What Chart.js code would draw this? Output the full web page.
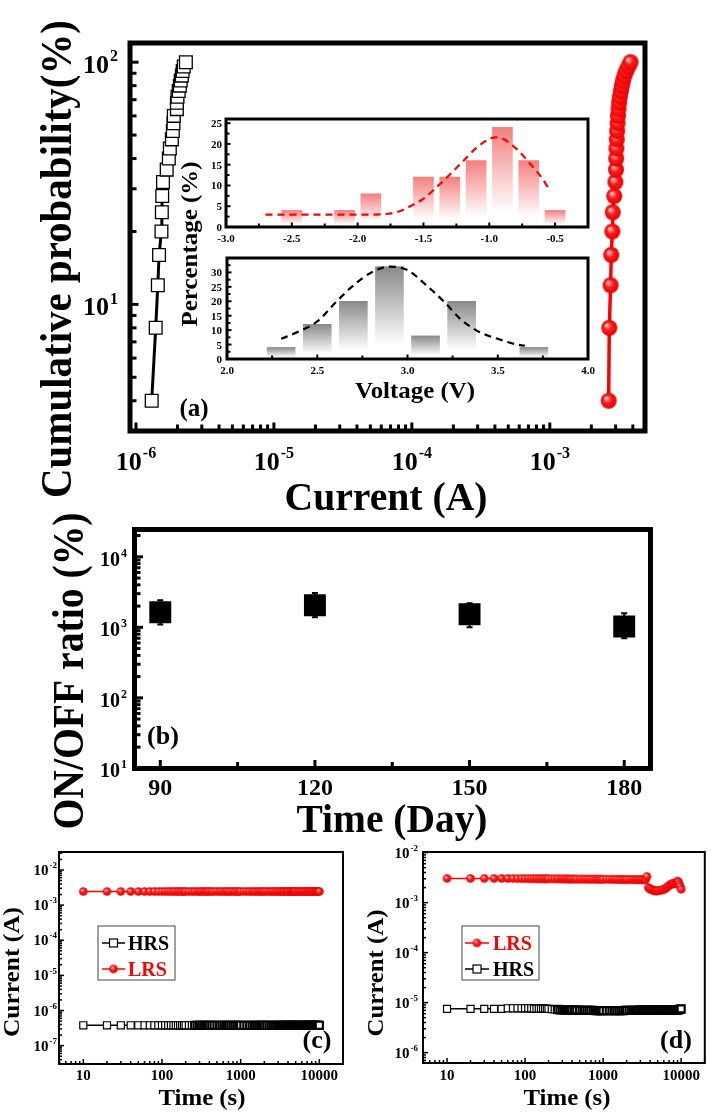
<!DOCTYPE html>
<html>
<head>
<meta charset="utf-8">
<script src="https://cdn.jsdelivr.net/npm/chart.js"></script>
<style>
  body { margin: 0; background: #fff; }
  #wrap { position: relative; width: 712px; height: 1112px; }
  #wrap canvas { position: absolute; left: 0; top: 0; }
</style>
</head>
<body>
<div id="wrap">
  <canvas id="cA" width="712" height="1112"></canvas>
  <canvas id="cI1" width="712" height="1112"></canvas>
  <canvas id="cI2" width="712" height="1112"></canvas>
  <canvas id="cB" width="712" height="1112"></canvas>
  <canvas id="cC" width="712" height="1112"></canvas>
  <canvas id="cD" width="712" height="1112"></canvas>
</div>
<script>
// ---- (a) cumulative probability ----
var cumProb = [4, 8, 12, 16, 20, 24, 28, 32, 36, 40, 44, 48, 52, 56, 60, 64, 68, 72, 76, 80, 84, 88, 92, 96, 100];
// HRS current in uA, LRS current in mA
var hrsCurrent = [1.30, 1.39, 1.44, 1.47, 1.53, 1.54, 1.55, 1.57, 1.67, 1.73, 1.76, 1.82, 1.85, 1.87, 1.88, 1.98, 1.98, 2.00, 2.04, 2.08, 2.11, 2.15, 2.18, 2.22, 2.30];
var lrsCurrent = [2.67, 2.70, 2.76, 2.79, 2.84, 2.86, 2.93, 2.99, 3.02, 3.03, 3.04, 3.06, 3.08, 3.10, 3.12, 3.15, 3.18, 3.22, 3.28, 3.33, 3.40, 3.48, 3.58, 3.72, 3.85];

// ---- insets: voltage histograms ----
var resetV = [-2.5, -2.1, -1.9, -1.5, -1.3, -1.1, -0.9, -0.7, -0.5];
var resetPct = [4, 4, 8, 12, 12, 16, 24, 16, 4];
var resetFitV = [-2.7, -2.5, -2.3, -2.1, -1.9, -1.8, -1.7, -1.6, -1.5, -1.4, -1.3, -1.2, -1.1, -1.0, -0.95, -0.9, -0.8, -0.7, -0.6, -0.55];
var resetFitPct = [3.0, 3.0, 3.0, 3.0, 3.0, 3.1, 3.6, 5.0, 6.8, 9.6, 12.6, 15.8, 19.0, 21.2, 21.6, 21.3, 19.0, 15.6, 11.8, 9.3];
var setV = [2.3, 2.5, 2.7, 2.9, 3.1, 3.3, 3.7];
var setPct = [4, 12, 20, 32, 8, 20, 4];
var setFitV = [2.3, 2.4, 2.5, 2.6, 2.7, 2.8, 2.9, 3.0, 3.1, 3.2, 3.3, 3.4, 3.5, 3.6, 3.65];
var setFitPct = [7.0, 9.6, 13.0, 19.5, 25.5, 30.0, 32.0, 30.8, 25.8, 20.0, 13.5, 9.3, 7.0, 5.1, 4.6];

// ---- (b) ON/OFF ratio vs days ----
var days = [90, 120, 150, 180];
var ratio = [1640, 2060, 1530, 1030];
var ratioHi = [2430, 3060, 2200, 1580];
var ratioLo = [1100, 1390, 1000, 700];

// ---- (c), (d) retention ----
var times = [10, 20, 30, 40, 50, 60, 70, 80, 90, 100,
  110, 120, 130, 140, 150, 160, 170, 180, 190, 200,
  220, 240, 260, 280, 300, 320, 340, 360, 380, 400,
  430, 460, 500, 540, 580, 620, 660, 700, 750, 800, 850, 900, 950, 1000,
  1100, 1200, 1300, 1400, 1500, 1600, 1700, 1800, 1900, 2000,
  2150, 2300, 2450, 2600, 2750, 2900, 3050, 3200, 3350, 3500,
  3650, 3800, 3950, 4100, 4250, 4400, 4550, 4700, 4850, 5000,
  5250, 5500, 5750, 6000, 6250, 6500, 6750, 7000, 7250, 7500,
  7750, 8000, 8250, 8500, 8750, 9000, 9250, 9500, 9750, 10000];
// mA
var cLrs = [2.45, 2.45, 2.45, 2.45, 2.45, 2.45, 2.45, 2.45, 2.45, 2.45,
  2.45, 2.45, 2.45, 2.45, 2.45, 2.45, 2.45, 2.45, 2.45, 2.45,
  2.45, 2.45, 2.45, 2.45, 2.45, 2.45, 2.45, 2.45, 2.45, 2.45,
  2.45, 2.45, 2.45, 2.45, 2.45, 2.45, 2.45, 2.45, 2.45, 2.45, 2.45, 2.45, 2.45, 2.45,
  2.45, 2.45, 2.45, 2.45, 2.45, 2.45, 2.45, 2.45, 2.45, 2.45,
  2.45, 2.45, 2.45, 2.45, 2.45, 2.45, 2.45, 2.45, 2.45, 2.45,
  2.45, 2.45, 2.45, 2.45, 2.45, 2.45, 2.45, 2.45, 2.45, 2.45,
  2.45, 2.45, 2.45, 2.45, 2.45, 2.45, 2.45, 2.45, 2.45, 2.45,
  2.45, 2.45, 2.45, 2.45, 2.45, 2.45, 2.45, 2.45, 2.45, 2.45];
// x1e-7 A
var cHrs = [3.8, 3.8, 3.8, 3.8, 3.8, 3.8, 3.8, 3.8, 3.8, 3.8,
  3.8, 3.8, 3.8, 3.8, 3.8, 3.8, 3.8, 3.8, 3.8, 3.8,
  3.8, 3.8, 3.8, 3.8, 3.8, 3.8, 3.8, 3.8, 3.8, 3.8,
  3.8, 3.8, 3.8, 3.8, 3.8, 3.8, 3.8, 3.8, 3.8, 3.8, 3.8, 3.8, 3.8, 3.8,
  3.8, 3.8, 3.8, 3.8, 3.8, 3.8, 3.8, 3.8, 3.8, 3.8,
  3.8, 3.8, 3.8, 3.8, 3.8, 3.8, 3.8, 3.8, 3.8, 3.8,
  3.8, 3.8, 3.8, 3.8, 3.8, 3.8, 3.8, 3.8, 3.8, 3.8,
  3.8, 3.8, 3.8, 3.8, 3.8, 3.8, 3.8, 3.8, 3.8, 3.8,
  3.8, 3.8, 3.8, 3.8, 3.8, 3.8, 3.8, 3.8, 3.8, 3.8];
// mA
var dLrs = [3.05, 3.05, 3.05, 3.04, 3.05, 3.04, 3.04, 3.03, 3.03, 3.03,
  3.02, 3.02, 3.02, 3.01, 3.01, 3.01, 3.00, 3.00, 3.00, 3.00,
  3.00, 2.99, 2.99, 2.99, 2.98, 2.98, 2.98, 2.97, 2.97, 2.97,
  2.97, 2.96, 2.96, 2.96, 2.95, 2.95, 2.95, 2.94, 2.94, 2.94, 2.94, 2.93, 2.93, 2.93,
  2.93, 2.92, 2.92, 2.92, 2.91, 2.91, 2.91, 2.90, 2.90, 2.90,
  2.90, 2.90, 2.89, 2.89, 2.89, 2.88, 2.88, 2.88, 2.88, 2.90,
  3.35, 2.00, 1.90, 1.85, 1.80, 1.76, 1.74, 1.72, 1.72, 1.74,
  1.75, 1.77, 1.80, 1.84, 1.90, 2.00, 2.10, 2.20, 2.30, 2.35,
  2.40, 2.45, 2.40, 2.45, 2.55, 2.70, 2.60, 2.30, 2.10, 1.85];
// uA
var dHrs = [7.5, 7.5, 7.5, 7.5, 7.5, 7.7, 7.7, 7.7, 7.7, 7.7,
  7.7, 7.7, 7.6, 7.6, 7.6, 7.6, 7.6, 7.6, 7.6, 7.5,
  7.4, 7.3, 7.3, 7.2, 7.2, 7.2, 7.2, 7.2, 7.2, 7.2,
  7.1, 7.1, 7.1, 7.0, 7.0, 7.0, 7.0, 7.0, 7.0, 6.9, 6.9, 6.9, 6.9, 6.9,
  6.9, 6.9, 6.9, 6.9, 6.9, 6.9, 6.9, 6.9, 7.0, 7.0,
  7.0, 7.0, 7.0, 7.0, 7.0, 7.1, 7.1, 7.1, 7.1, 7.1,
  7.1, 7.1, 7.1, 7.1, 7.1, 7.1, 7.1, 7.1, 7.1, 7.1,
  7.2, 7.2, 7.2, 7.2, 7.2, 7.2, 7.2, 7.2, 7.2, 7.2,
  7.2, 7.2, 7.2, 7.2, 7.2, 7.2, 7.2, 7.3, 7.3, 7.5];

// ---- tick values and labels ----
var aXTicks = [1e-6, 1e-5, 1e-4, 1e-3];
var aXLabels = [['10', '-6'], ['10', '-5'], ['10', '-4'], ['10', '-3']];
var aYTicks = [10, 100];
var aYLabels = [['10', '1'], ['10', '2']];
var i1XTicks = [-3, -2.5, -2, -1.5, -1, -0.5];
var i1XLabels = ['-3.0', '-2.5', '-2.0', '-1.5', '-1.0', '-0.5'];
var i1YTicks = [0, 5, 10, 15, 20, 25];
var i1YLabels = ['0', '5', '10', '15', '20', '25'];
var i2XTicks = [2, 2.5, 3, 3.5, 4];
var i2XLabels = ['2.0', '2.5', '3.0', '3.5', '4.0'];
var i2YTicks = [0, 5, 10, 15, 20, 25, 30];
var i2YLabels = ['0', '5', '10', '15', '20', '25', '30'];
var bXTicks = [90, 120, 150, 180];
var bXLabels = ['90', '120', '150', '180'];
var bYTicks = [10, 100, 1000, 10000];
var bYLabels = [['10', '1'], ['10', '2'], ['10', '3'], ['10', '4']];
var tXTicks = [10, 100, 1000, 10000];
var tXLabels = ['10', '100', '1000', '10000'];
var cYTicks = [1e-7, 1e-6, 1e-5, 1e-4, 1e-3, 1e-2];
var cYLabels = [['10', '-7'], ['10', '-6'], ['10', '-5'], ['10', '-4'], ['10', '-3'], ['10', '-2']];
var dYTicks = [1e-6, 1e-5, 1e-4, 1e-3, 1e-2];
var dYLabels = [['10', '-6'], ['10', '-5'], ['10', '-4'], ['10', '-3'], ['10', '-2']];

var W = 712, H = 1112;
var SERIF = '"Liberation Serif", "Times New Roman", Times, serif';
function f(s) { return 'bold ' + s + 'px ' + SERIF; }

function logMinor(min, max) {
  var out = [];
  for (var e = Math.floor(Math.log10(min)); e <= Math.ceil(Math.log10(max)); e++) {
    for (var k = 2; k <= 9; k++) {
      var v = k * Math.pow(10, e);
      if (v >= min && v <= max) out.push(v);
    }
  }
  return out;
}

// red shaded ball used as marker
function ball(r) {
  var c = document.createElement('canvas');
  var d = Math.ceil(r * 2 + 2);
  c.width = c.height = d;
  var g = c.getContext('2d'), m = d / 2;
  var gr = g.createRadialGradient(m - r * 0.35, m - r * 0.38, 0, m, m, r);
  gr.addColorStop(0, '#ffffff');
  gr.addColorStop(0.2, '#ff9090');
  gr.addColorStop(0.5, '#ff1a1a');
  gr.addColorStop(1, '#e80000');
  g.fillStyle = gr;
  g.beginPath(); g.arc(m, m, r, 0, Math.PI * 2); g.fill();
  return c;
}
var ballBig = ball(8);
var ballSmall = ball(4.3);

function drawText(ctx, t) {
  ctx.save();
  ctx.font = f(t.s);
  ctx.fillStyle = t.c || '#000';
  ctx.textAlign = 'center';
  ctx.textBaseline = 'alphabetic';
  ctx.translate(t.x, t.y);
  if (t.rot) ctx.rotate(t.rot * Math.PI / 180);
  if (t.len) ctx.scale(t.len / ctx.measureText(t.t).width, 1);
  ctx.fillText(t.t, 0, 0);
  ctx.restore();
}

function tickLabel(ctx, lab, x, y, s, align) {
  ctx.fillStyle = '#000';
  if (typeof lab === 'string') {
    ctx.font = f(s); ctx.textAlign = align; ctx.fillText(lab, x, y);
    return;
  }
  var ss = Math.round(s * 0.6);
  ctx.font = f(s); var w1 = ctx.measureText(lab[0]).width;
  ctx.font = f(ss); var w2 = ctx.measureText(lab[1]).width;
  var w = w1 + w2 + 1;
  var x0 = align === 'right' ? x - w : x - w / 2;
  ctx.textAlign = 'left';
  ctx.font = f(s); ctx.fillText(lab[0], x0, y);
  ctx.font = f(ss); ctx.fillText(lab[1], x0 + w1 + 1, y - s * 0.45);
}

// frame, inward ticks, tick labels, legend and texts
function frame(cfg) {
  return {
    id: 'frame',
    beforeDatasetsDraw: function (chart) { if (cfg.under) cfg.under(chart); },
    afterDatasetsDraw: function (chart) {
      var ctx = chart.ctx, a = chart.chartArea;
      ctx.save();
      ctx.strokeStyle = '#000';
      ctx.textBaseline = 'alphabetic';
      ['x', 'y'].forEach(function (k) {
        var c = cfg[k], sc = chart.scales[k];
        ctx.lineWidth = c.tw;
        var tick = function (v, len) {
          var p = sc.getPixelForValue(v);
          len += cfg.lw / 2;
          ctx.beginPath();
          if (k === 'x') { ctx.moveTo(p, a.bottom); ctx.lineTo(p, a.bottom - len); }
          else { ctx.moveTo(a.left, p); ctx.lineTo(a.left + len, p); }
          ctx.stroke();
        };
        c.minor.forEach(function (v) { tick(v, c.ml); });
        c.major.forEach(function (v) { tick(v, c.len); });
        c.major.forEach(function (v, i) {
          var p = sc.getPixelForValue(v);
          if (k === 'x') tickLabel(ctx, c.labels[i], p, c.at, c.size, 'center');
          else tickLabel(ctx, c.labels[i], c.at, p + c.dy, c.size, 'right');
        });
      });
      ctx.lineWidth = cfg.lw;
      ctx.strokeRect(a.left, a.top, a.right - a.left, a.bottom - a.top);
      if (cfg.legend) {
        var L = cfg.legend;
        ctx.lineWidth = 1; ctx.strokeStyle = '#444';
        ctx.strokeRect(L.box[0], L.box[1], L.box[2] - L.box[0], L.box[3] - L.box[1]);
        L.items.forEach(function (it) {
          ctx.strokeStyle = it.c; ctx.lineWidth = 1.5;
          ctx.beginPath(); ctx.moveTo(L.lx[0], it.y); ctx.lineTo(L.lx[1], it.y); ctx.stroke();
          var mx = (L.lx[0] + L.lx[1]) / 2;
          if (it.m === 'rect') {
            ctx.fillStyle = '#fff'; ctx.strokeStyle = '#000'; ctx.lineWidth = 1.2;
            ctx.fillRect(mx - 4, it.y - 4, 8, 8); ctx.strokeRect(mx - 4, it.y - 4, 8, 8);
          } else {
            ctx.drawImage(ballSmall, mx - ballSmall.width / 2, it.y - ballSmall.height / 2);
          }
          ctx.fillStyle = it.c; ctx.font = f(20); ctx.textAlign = 'left';
          ctx.fillText(it.t, L.tx, it.base);
        });
      }
      (cfg.texts || []).forEach(function (t) { drawText(ctx, t); });
      ctx.restore();
    }
  };
}

function logAxis(min, max) { return { type: 'logarithmic', min: min, max: max, display: false, bounds: 'data' }; }
function linAxis(min, max) { return { type: 'linear', min: min, max: max, display: false, bounds: 'data', offset: false }; }

function make(id, type, datasets, area, scales, deco) {
  return new Chart(document.getElementById(id), {
    type: type,
    data: { datasets: datasets },
    options: {
      responsive: false, animation: false, devicePixelRatio: 1, events: [],
      layout: { padding: { left: area[0], top: area[1], right: W - area[2], bottom: H - area[3] } },
      plugins: { legend: { display: false }, tooltip: { enabled: false } },
      scales: scales
    },
    plugins: [frame(deco)]
  });
}

function barFill(top) {
  return function (c) {
    var ch = c.chart;
    if (!ch.chartArea || c.type !== 'data') return top;
    var ys = ch.scales.y;
    var g = ch.ctx.createLinearGradient(0, ys.getPixelForValue(c.raw.y), 0, ys.getPixelForValue(0));
    g.addColorStop(0, top);
    g.addColorStop(0.85, '#ffffff');
    g.addColorStop(1, '#ffffff');
    return g;
  };
}

// hollow squares get a heavier outline where the samples crowd together
function denseBorder(c) {
  return c.raw && c.raw.x > 250 ? 2.2 : 1.2;
}

function pairs(xs, ys, kx, ky) {
  return xs.map(function (x, i) { return { x: x * (kx || 1), y: ys[i] * (ky || 1) }; });
}

// ---------- panel (a) ----------
var aX = [9.05e-7, 4.9e-3], aY = [3.0, 120];
make('cA', 'scatter', [
  { data: pairs(hrsCurrent, cumProb, 1e-6), showLine: true, borderColor: '#000', borderWidth: 3,
    pointStyle: 'rect', pointRadius: 9, pointBackgroundColor: '#fff', pointBorderColor: '#000', pointBorderWidth: 1.3 },
  { data: pairs(lrsCurrent, cumProb, 1e-3), showLine: true, borderColor: '#ff0000', borderWidth: 3.5,
    pointStyle: ballBig, pointRadius: 8 }
], [130, 43, 645, 431], { x: logAxis(aX[0], aX[1]), y: logAxis(aY[0], aY[1]) }, {
  lw: 5,
  x: { major: aXTicks, labels: aXLabels, minor: logMinor(aX[0], aX[1]), len: 6, ml: 4, tw: 3, at: 470, size: 26 },
  y: { major: aYTicks, labels: aYLabels, minor: logMinor(aY[0], aY[1]), len: 6, ml: 4, tw: 3, at: 118, dy: 11, size: 26 },
  texts: [
    { t: 'Cumulative probability(%)', x: 71, y: 259, s: 44, len: 478, rot: -90 },
    { t: 'Current (A)', x: 386, y: 510, s: 40, len: 203 },
    { t: '(a)', x: 194, y: 416, s: 25 }
  ]
});

// ---------- inset: reset voltage ----------
make('cI1', 'bar', [
  { type: 'line', data: pairs(resetFitV, resetFitPct), borderColor: '#ff0000', borderWidth: 2.2,
    borderDash: [7, 5], pointRadius: 0, cubicInterpolationMode: 'monotone', order: 0 },
  { type: 'bar', data: pairs(resetV, resetPct), backgroundColor: barFill('#f57f7f'), borderWidth: 0,
    barThickness: 20, order: 1 }
], [226, 119, 588, 227], { x: linAxis(-3.0, -0.25), y: linAxis(0, 26) }, {
  lw: 3,
  x: { major: i1XTicks, labels: i1XLabels, minor: [-2.75, -2.25, -1.75, -1.25, -0.75], len: 3, ml: 2, tw: 2, at: 242, size: 11 },
  y: { major: i1YTicks, labels: i1YLabels, minor: [2.5, 7.5, 12.5, 17.5, 22.5], len: 3, ml: 2, tw: 2, at: 222, dy: 4, size: 11 }
});

// ---------- inset: set voltage ----------
make('cI2', 'bar', [
  { type: 'line', data: pairs(setFitV, setFitPct), borderColor: '#000', borderWidth: 2.2,
    borderDash: [7, 5], pointRadius: 0, cubicInterpolationMode: 'monotone', order: 0 },
  { type: 'bar', data: pairs(setV, setPct), backgroundColor: barFill('#8a8a8a'), borderWidth: 0,
    barThickness: 28, order: 1 }
], [227, 258, 588, 359], { x: linAxis(2.0, 4.0), y: linAxis(0, 35) }, {
  lw: 3,
  x: { major: i2XTicks, labels: i2XLabels, minor: [2.25, 2.75, 3.25, 3.75], len: 3, ml: 2, tw: 2, at: 374, size: 11 },
  y: { major: i2YTicks, labels: i2YLabels, minor: [2.5, 7.5, 12.5, 17.5, 22.5, 27.5, 32.5], len: 3, ml: 2, tw: 2, at: 222, dy: 4, size: 11 },
  texts: [
    { t: 'Percentage (%)', x: 197, y: 244, s: 24, len: 165, rot: -90 },
    { t: 'Voltage (V)', x: 415, y: 398, s: 24, len: 120 }
  ]
});

// ---------- panel (b) ----------
var bY = [9.95, 2.44e4];
make('cB', 'scatter', [
  { data: pairs(days, ratio), pointStyle: 'rect', pointRadius: 15.5, pointBackgroundColor: '#000',
    pointBorderColor: '#000', pointBorderWidth: 0, showLine: false }
], [134.5, 529.5, 650.5, 768.5], { x: linAxis(85, 185.1), y: logAxis(bY[0], bY[1]) }, {
  lw: 5,
  x: { major: bXTicks, labels: bXLabels, minor: [105, 135, 165], len: 6, ml: 4, tw: 3, at: 795, size: 24 },
  y: { major: bYTicks, labels: bYLabels, minor: logMinor(bY[0], bY[1]), len: 6, ml: 3.5, tw: 3, at: 127, dy: 9, size: 20 },
  under: function (chart) {
    var ctx = chart.ctx, xs = chart.scales.x, ys = chart.scales.y;
    ctx.save();
    ctx.strokeStyle = '#000'; ctx.lineWidth = 2;
    days.forEach(function (d, i) {
      var x = xs.getPixelForValue(d), y1 = ys.getPixelForValue(ratioHi[i]), y2 = ys.getPixelForValue(ratioLo[i]);
      ctx.beginPath();
      ctx.moveTo(x, y1); ctx.lineTo(x, y2);
      ctx.moveTo(x - 3, y1); ctx.lineTo(x + 3, y1);
      ctx.moveTo(x - 3, y2); ctx.lineTo(x + 3, y2);
      ctx.stroke();
    });
    ctx.restore();
  },
  texts: [
    { t: 'ON/OFF ratio (%)', x: 83, y: 671, s: 44, len: 317, rot: -90 },
    { t: 'Time (Day)', x: 392, y: 832, s: 40, len: 191 },
    { t: '(b)', x: 163, y: 744, s: 26 }
  ]
});

// ---------- panel (c) ----------
var cX = [4.91, 2.0e4], cY = [3.0e-8, 3.25e-2];
make('cC', 'scatter', [
  { data: pairs(times, cLrs, 1, 1e-3), showLine: true, borderColor: '#ff0000', borderWidth: 1.5,
    pointStyle: ballSmall, pointRadius: 4 },
  { data: pairs(times, cHrs, 1, 1e-7), showLine: true, borderColor: '#000', borderWidth: 1.5,
    pointStyle: 'rect', pointRadius: 5, pointBackgroundColor: '#fff', pointBorderColor: '#000', pointBorderWidth: denseBorder }
], [59, 852, 343, 1064], { x: logAxis(cX[0], cX[1]), y: logAxis(cY[0], cY[1]) }, {
  lw: 2,
  x: { major: tXTicks, labels: tXLabels, minor: logMinor(cX[0], cX[1]), len: 4, ml: 2, tw: 1.5, at: 1080, size: 15 },
  y: { major: cYTicks, labels: cYLabels, minor: logMinor(cY[0], cY[1]), len: 4, ml: 2, tw: 1.5, at: 57, dy: 5, size: 15 },
  legend: { box: [98, 926, 175, 980], lx: [102, 125], tx: 128, items: [
    { t: 'HRS', c: '#000', m: 'rect', y: 943, base: 950 },
    { t: 'LRS', c: '#ff0000', m: 'ball', y: 969, base: 976 }
  ] },
  texts: [
    { t: 'Current (A)', x: 19, y: 972, s: 24, len: 130, rot: -90 },
    { t: 'Time (s)', x: 202, y: 1105, s: 24, len: 87 },
    { t: '(c)', x: 317, y: 1048, s: 26 }
  ]
});

// ---------- panel (d) ----------
var dX = [4.92, 2.01e4], dY = [6.2e-7, 1.03e-2];
make('cD', 'scatter', [
  { data: pairs(times, dLrs, 1, 1e-3), showLine: true, borderColor: '#ff0000', borderWidth: 1.5,
    pointStyle: ballSmall, pointRadius: 4 },
  { data: pairs(times, dHrs, 1, 1e-6), showLine: true, borderColor: '#000', borderWidth: 1.5,
    pointStyle: 'rect', pointRadius: 5, pointBackgroundColor: '#fff', pointBorderColor: '#000', pointBorderWidth: denseBorder }
], [423, 852, 708, 1063], { x: logAxis(dX[0], dX[1]), y: logAxis(dY[0], dY[1]) }, {
  lw: 2,
  x: { major: tXTicks, labels: tXLabels, minor: logMinor(dX[0], dX[1]), len: 4, ml: 2, tw: 1.5, at: 1080, size: 15 },
  y: { major: dYTicks, labels: dYLabels, minor: logMinor(dY[0], dY[1]), len: 4, ml: 2, tw: 1.5, at: 418, dy: 5, size: 15 },
  legend: { box: [462, 926, 539, 980], lx: [465, 489], tx: 493, items: [
    { t: 'LRS', c: '#ff0000', m: 'ball', y: 943, base: 950 },
    { t: 'HRS', c: '#000', m: 'rect', y: 969, base: 976 }
  ] },
  texts: [
    { t: 'Current (A)', x: 383, y: 973, s: 24, len: 127, rot: -90 },
    { t: 'Time (s)', x: 567, y: 1105, s: 24, len: 87 },
    { t: '(d)', x: 676, y: 1048, s: 26 }
  ]
});
</script>
</body>
</html>
